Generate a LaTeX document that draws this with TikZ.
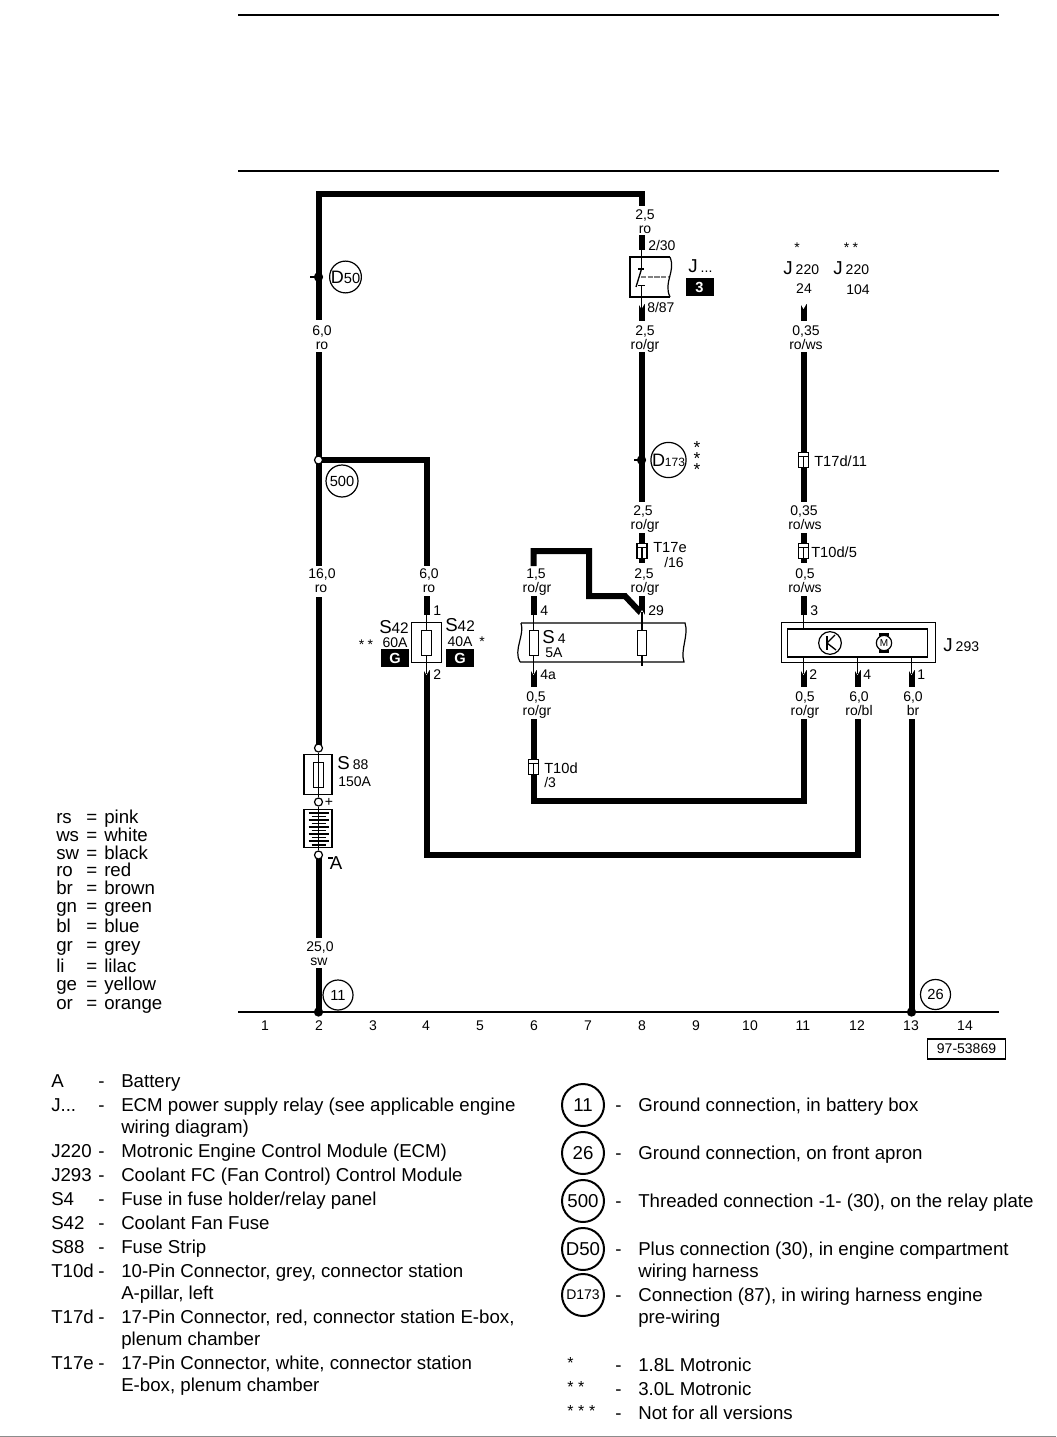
\documentclass[tikz,border=0pt]{standalone}
\usepackage{fontspec}
\setmainfont{Liberation Sans}
\newcommand{\fz}[1]{\fontsize{#1}{#1}\selectfont}
\newcommand{\jdd}{J...}
\newcommand{\stsp}{\hspace{2.6pt}}
\tikzset{
  x=0.75pt,y=-0.75pt,
  wire/.style={line width=4.5pt,line join=miter,line cap=butt},
  thin line/.style={line width=0.8pt},
  rule/.style={line width=0.9pt},
  lab/.style={inner sep=0pt,text height=7.4pt,text depth=0pt,font=\fz{10.5}},
  labw/.style={lab,anchor=west},
  big/.style={inner sep=0pt,text height=10pt,text depth=0pt,font=\fz{14}},
  bigw/.style={big,anchor=west},
  leg/.style={inner sep=0pt,text height=10pt,text depth=0pt,font=\fz{14},anchor=west},
  ring/.style={circle,draw,line width=0.9pt,fill=white,inner sep=0pt},
  keyring/.style={ring,line width=1.5pt,minimum size=31.5pt},
  opendot/.style={circle,draw,line width=0.9pt,fill=white,inner sep=0pt,minimum size=6pt},
  soliddot/.style={circle,fill=black,inner sep=0pt,minimum size=7pt},
  box/.style={rectangle,draw,line width=0.9pt,inner sep=0pt},
  blk/.style={rectangle,fill=black,text=white,inner sep=0pt,font=\bfseries\fz{11},minimum width=21pt,minimum height=13pt},
}
% down pin: tip at y (upper end), wire goes down
\newcommand{\pindown}[3]{%
  \coordinate (#1a) at (#2,#3); \coordinate (#1b) at (#2,#3+17);
  \draw[wire] (#1a) -- (#1b);
  \fill[white] (#2-3.2,#3-.5) -- (#2+3.2,#3-.5) -- (#2,#3+5) -- cycle;}
% up pin: tip at y (lower end), wire goes up
\newcommand{\pinup}[3]{%
  \coordinate (#1a) at (#2,#3); \coordinate (#1b) at (#2,#3-19);
  \draw[wire] (#1a) -- (#1b);
  \fill[white] (#2-3.2,#3+.5) arc (180:0:3.2 and 5) -- cycle;}
% in-line connector
\newcommand{\conn}[3]{%
  \node[box,fill=white,minimum width=7.6pt,minimum height=11.6pt] (#1) at (#2,#3) {};
  \draw[thin line] (#2-5,#3-3.5) -- (#2+5,#3-3.5);
  \draw[thin line] (#2,#3-3.5) -- (#2,#3+8);}
\begin{document}
\begin{tikzpicture}
\useasboundingbox (0,0) rectangle (1056,1437);
\fill[white] (0,0) rectangle (1056,1437);
% rules
\coordinate (r1a) at (238,15); \coordinate (r1b) at (999,15);
\coordinate (r2a) at (238,171); \coordinate (r2b) at (999,171);
\coordinate (r3a) at (238,1012); \coordinate (r3b) at (999,1012);
\coordinate (r4a) at (0,1436.5); \coordinate (r4b) at (1056,1436.5);
\draw[rule] (r1a) -- (r1b); \draw[rule] (r2a) -- (r2b); \draw[rule] (r3a) -- (r3b);
\draw[line width=1pt,black!45] (r4a) -- (r4b);
% grid numbers
\foreach \n/\x in {1/265,2/319,3/373,4/426,5/480,6/534,7/588,8/642,9/696,10/750,11/803,12/857,13/911,14/965}
  \node[lab] (ax\n) at (\x,1026) {\n};
\node[box,minimum width=59pt,minimum height=15pt,font=\fz{10.5}] (docno) at (966.5,1049) {97-53869};

% --- main wires ---
\coordinate (w1) at (642,206); \coordinate (w2) at (642,194.5); \coordinate (w3) at (318.5,194.5);
\coordinate (w4) at (318.5,320);
\draw[wire] (w1) -- (w2) -- (w3) -- (w4);
\coordinate (w5) at (318.5,352); \coordinate (w6) at (318.5,566);
\draw[wire] (w5) -- (w6);
\coordinate (w7) at (318.5,597); \coordinate (w8) at (318.5,748);
\draw[wire] (w7) -- (w8);
\coordinate (b1) at (318.5,460); \coordinate (b2) at (427,460); \coordinate (b3) at (427,566);
\draw[wire] (b1) -- (b2) -- (b3);
\coordinate (w9) at (318.5,855); \coordinate (w10) at (318.5,938);
\draw[wire] (w9) -- (w10);
\coordinate (w11) at (318.5,968); \coordinate (w12) at (318.5,1012);
\draw[wire] (w11) -- (w12);

% D50, 500
\node[soliddot] (d50dot) at (318.5,277) {};
\coordinate (d50t) at (310,277); \draw[thin line] (d50t) -- (d50dot);
\node[ring,minimum size=23.5pt,font=\fz{11}] (d50) at (345.5,277) {\fz{13.5}D\fz{11}50};
\node[opendot] (n500dot) at (318.5,460) {};
\node[ring,minimum size=24pt,font=\fz{11}] (n500) at (342,481) {500};
\node[lab] (l60a) at (322,331) {6,0};
\node[lab] (l60b) at (322,345) {ro};
\node[lab] (l160a) at (322,574) {16,0};
\node[lab] (l160b) at (321,588) {ro};
\node[lab] (l25a) at (320,947) {25,0};
\node[lab] (l25b) at (319,961) {sw};

% S88 and battery
\node[opendot] (s88t) at (318.5,748) {};
\node[box,minimum width=21pt,minimum height=29.5pt] (s88) at (318,774.5) {};
\node[opendot] (bplus) at (318.5,802) {};
\node[box,minimum width=21pt,minimum height=29pt] (bat) at (318,828.5) {};
\node[opendot] (bminus) at (318.5,855) {};
\draw[thin line] (s88t) -- (bplus) -- (bminus);
\node[box,fill=white,minimum width=7pt,minimum height=19pt] (s88f) at (318.5,775) {};
\draw[thin line] (s88t) -- (bplus);
\foreach \yy/\w in {813/10,816.5/7,820/10,823.5/7,827/10,830.5/7,834/10,837.5/7,841/10,845/7}{
  \draw[line width=1pt] (318.5-\w,\yy) -- (318.5+\w,\yy);}
\node[bigw] (s88s) at (337,763) {S\,\fz{10.5}88};
\node[labw] (s88a) at (338,782) {150A};
\node[lab] (plus) at (329,802) {+};
\node[big] (abat) at (336,863) {A};
\coordinate (minA) at (328,858); \coordinate (minB) at (333,858);
\draw[thin line] (minA) -- (minB);
\node[ring,minimum size=22.5pt,font=\fz{11}] (g11) at (338,995) {11};
\node[soliddot] (g11dot) at (318.5,1012) {};

% Relay J...
\node[lab] (l25ra) at (645,215) {2,5};
\pinup{p230}{641.5}{250}
\fill[white] (636,222) rectangle (648,235.5);
\node[lab] (l25rb) at (645,229) {ro};
\node[labw] (l230) at (648,246) {2/30};
\coordinate (ra) at (630,257); \coordinate (rb) at (670,257); \coordinate (rc) at (670,297); \coordinate (rd) at (630,297);
\draw[line width=.9pt] (rb) -- (ra) -- (rd) -- (rc);
\draw[line width=.9pt] (rb) .. controls (676,272) and (663,282) .. (rc);
\coordinate (rl1) at (641.5,246); \coordinate (rl2) at (641.5,268);
\draw[thin line] (rl1) -- (rl2);
\coordinate (rs1) at (638,269); \coordinate (rs2) at (644,269); \draw[thin line] (rs1) -- (rs2);
\coordinate (rs3) at (641.5,269); \coordinate (rs4) at (636,287); \draw[line width=1pt] (rs3) -- (rs4);
\coordinate (rs5) at (638,285.5); \coordinate (rs6) at (645,285.5); \draw[thin line] (rs5) -- (rs6);
\coordinate (rl3) at (641.5,285.5); \coordinate (rl4) at (641.5,310); \draw[thin line] (rl3) -- (rl4);
\coordinate (rd1) at (641,277); \coordinate (rd2) at (669,277); \draw[line width=1.1pt,dash pattern=on 4pt off 1pt,black!50] (rd1) -- (rd2);
\pindown{p887}{641.5}{304}
\draw[thin line] (641.5,297) -- (641.5,309);
\node[labw] (l887) at (647,308) {8/87};
\node[bigw] (jdots) at (688,266) {J\,\fz{10.5}...};
\node[blk] (b3box) at (699.5,287) {3};
\node[lab] (l25c) at (645,331) {2,5};
\node[lab] (l25d) at (645,345) {ro/gr};
\coordinate (w20) at (642,352); \coordinate (w21) at (642,502);
\draw[wire] (w20) -- (w21);
\node[soliddot] (d173dot) at (641.5,460) {};
\coordinate (d173t) at (634,460); \draw[thin line] (d173t) -- (d173dot);
\node[ring,minimum size=26pt] (d173) at (668.5,460) {\fz{13.5}D\fz{9}173};
\node[inner sep=0pt,align=center,font=\fz{13}] (st1) at (697,459) {*\\[-4.75pt]*\\[-4.75pt]*};
\node[lab] (l25e) at (643,511) {2,5};
\node[lab] (l25f) at (645,525) {ro/gr};
\coordinate (w22) at (642,533); \coordinate (w23) at (642,563);
\draw[wire] (w22) -- (w23);
\conn{t17e}{642}{551}
\node[labw] (t17el) at (653,548) {\fz{11}T17e};
\node[labw] (t17em) at (664,563) {/16};
\node[lab] (l25g) at (644,574) {2,5};
\node[lab] (l25h) at (645,588) {ro/gr};
\pinup{p29}{642}{615}
\node[labw] (l29) at (648,611) {29};
% 1,5 loop
\coordinate (v1) at (533.5,566); \coordinate (v2) at (533.5,551); \coordinate (v3) at (589,551);
\coordinate (v4) at (589,596); \coordinate (v5) at (625,596); \coordinate (v6) at (641,613);
\draw[wire] (v1) -- (v2) -- (v3) -- (v4) -- (v5) -- (v6);
\fill[white] (638.8,615.5) -- (645.2,615.5) -- (642,610) -- cycle;
\node[lab] (l15a) at (536,574) {1,5};
\node[lab] (l15b) at (537,588) {ro/gr};
\pinup{p4}{533.5}{615}
\node[labw] (l4) at (540,611) {4};

% panel
\coordinate (pa) at (521,623); \coordinate (pb) at (685,623); \coordinate (pc) at (684,662); \coordinate (pd) at (520,662);
\draw[line width=.9pt] (pa) -- (pb) .. controls (689,635) and (680,650) .. (pc) -- (pd);
\draw[line width=.9pt] (pa) .. controls (525,635) and (513,650) .. (pd);
\coordinate (pl1) at (533.5,612); \coordinate (pl2) at (533.5,674);
\draw[thin line] (pl1) -- (pl2);
\coordinate (pl3) at (642,612); \coordinate (pl4) at (642,666);
\draw[thin line] (pl3) -- (pl4);
\node[box,fill=white,minimum width=7pt,minimum height=19pt] (fs4) at (534,643) {};
\node[box,fill=white,minimum width=7pt,minimum height=19pt] (fs8) at (642,643) {};
\node[bigw] (s4l) at (542,637) {S\,\fz{10.5}4};
\node[labw] (s4a) at (545,653) {5A};
\pindown{p4a}{533.5}{670}
\draw[thin line] (533.5,662) -- (533.5,674);
\node[labw] (l4a) at (540,675) {4a};
\node[lab] (l05a) at (536,697) {0,5};
\node[lab] (l05b) at (537,711) {ro/gr};
\coordinate (x1) at (533.5,719); \coordinate (x2) at (533.5,801); \coordinate (x3) at (803.5,801); \coordinate (x4) at (803.5,719);
\draw[wire] (x1) -- (x2) -- (x3) -- (x4);
\conn{t10d}{533.5}{767}
\node[labw] (t10dl) at (544,769) {\fz{11}T10d};
\node[labw] (t10dm) at (544,783) {/3};

% S42
\node[lab] (l60c) at (429,574) {6,0};
\node[lab] (l60d) at (429,588) {ro};
\pinup{p1}{426.5}{615}
\node[labw] (l1) at (433,611) {1};
\node[box,minimum width=23pt,minimum height=29.5pt] (s42) at (426.5,642.5) {};
\coordinate (sl1) at (426.5,612); \coordinate (sl2) at (426.5,674);
\draw[thin line] (sl1) -- (sl2);
\node[box,fill=white,minimum width=7pt,minimum height=19pt] (fs42) at (426.5,643) {};
\pindown{p2}{426.5}{670}
\draw[thin line] (426.5,662) -- (426.5,674);
\node[labw] (l2) at (433,675) {2};
\coordinate (y1) at (427,687); \coordinate (y2) at (427,854.5); \coordinate (y3) at (857.5,854.5); \coordinate (y4) at (857.5,719);
\draw[wire] (y1) -- (y2) -- (y3) -- (y4);
\node[bigw] (s42l) at (379,627) {S\fz{11.5}42};
\node[lab] (a60) at (395,643) {60A};
\node[lab] (st4) at (366,645) {*\stsp*};
\node[blk] (g1) at (395,658) {G};
\node[bigw] (s42r) at (445,625) {S\fz{11.5}42};
\node[lab] (a40) at (460,642) {40A};
\node[lab] (st5) at (482,642) {*};
\node[blk] (g2) at (460,658) {G};

% right column
\node[lab] (st6) at (797,248) {*};
\node[lab] (st7) at (851,248) {*\stsp*};
\node[bigw] (j220a) at (783,268) {J\,\fz{10.5}220};
\node[bigw] (j220b) at (833,268) {J\,\fz{10.5}220};
\node[lab] (n24) at (804,289) {24};
\node[lab] (n104) at (858,290) {104};
\pindown{p24}{803.5}{304}
\node[lab] (l035a) at (806,331) {0,35};
\node[lab] (l035b) at (806,345) {ro/ws};
\coordinate (z1) at (803.5,352); \coordinate (z2) at (803.5,502);
\draw[wire] (z1) -- (z2);
\conn{t17d}{803.5}{460}
\node[labw] (t17dl) at (814,462) {\fz{11}T17d/11};
\node[lab] (l035c) at (804,511) {0,35};
\node[lab] (l035d) at (805,525) {ro/ws};
\coordinate (z3) at (803.5,533); \coordinate (z4) at (803.5,563);
\draw[wire] (z3) -- (z4);
\conn{t10e}{803.5}{551}
\node[labw] (t10el) at (811,553) {\fz{11}T10d/5};
\node[lab] (l05c) at (805,574) {0,5};
\node[lab] (l05d) at (805,588) {ro/ws};
\pinup{p3}{803.5}{615}
\node[labw] (l3) at (810,611) {3};
\coordinate (z5) at (803.5,612); \coordinate (z6) at (803.5,629);
\draw[thin line] (z5) -- (z6);
\node[box,minimum width=115pt,minimum height=29.5pt] (j293o) at (858.5,642.5) {};
\node[box,minimum width=105.5pt,minimum height=21pt] (j293i) at (857.5,643) {};
\node[ring,minimum size=17pt] (tr) at (830,643) {};
\coordinate (k1) at (827,636); \coordinate (k2) at (827,650); \draw[line width=1.2pt] (k1) -- (k2);
\coordinate (k3) at (827,643); \coordinate (k4) at (835,635); \coordinate (k5) at (836,650);
\draw[line width=1pt] (k4) -- (k3) -- (k5);
\node[ring,minimum size=11.5pt,font=\fz{7.5}] (mot) at (884,643) {M};
\coordinate (m1) at (879,634.5); \coordinate (m2) at (889,634.5); \draw[line width=1.6pt] (m1) -- (m2);
\coordinate (m3) at (879,651.5); \coordinate (m4) at (889,651.5); \draw[line width=1.6pt] (m3) -- (m4);
\node[bigw] (j293l) at (943,645) {J\,\fz{10.5}293};
\foreach \nm/\xx/\tx in {q2/803.5/2,q4/857.5/4,q1/911.5/1}{
  \pindown{\nm}{\xx}{670}
  \draw[thin line] (\xx,657) -- (\xx,674);
  \node[labw] (lab\nm) at (\xx+5.5,675) {\tx};
}
\node[lab] (l05e) at (805,697) {0,5};
\node[lab] (l05f) at (805,711) {ro/gr};
\node[lab] (l60e) at (859,697) {6,0};
\node[lab] (l60f) at (859,711) {ro/bl};
\node[lab] (l60g) at (913,697) {6,0};
\node[lab] (l60h) at (913,711) {br};
\coordinate (g1a) at (911.5,719); \coordinate (g1b) at (911.5,1012);
\draw[wire] (g1a) -- (g1b);
\node[soliddot] (g26dot) at (911.5,1012) {};
\node[ring,minimum size=22.5pt,font=\fz{11}] (g26) at (935.5,994.5) {26};

% colour legend
\foreach \i/\k/\c/\yy in {a/rs/pink/817,b/ws/white/835,c/sw/black/853,d/ro/red/870,e/br/brown/888,f/gn/green/906,g/bl/blue/926,h/gr/grey/945,i/li/lilac/966,j/ge/yellow/984,k/or/orange/1003}{
  \node[leg] (ck\i) at (56,\yy) {\k};
  \node[leg] (ce\i) at (86,\yy) {=};
  \node[leg] (cv\i) at (104,\yy) {\c};
}
% component legend
\foreach \i/\k/\yy/\t in {a/A/1081/Battery,
 b/\jdd/1105/ECM power supply relay (see applicable engine,
 c//1127/wiring diagram),
 d/J220/1151/Motronic Engine Control Module (ECM),
 e/J293/1175/Coolant FC (Fan Control) Control Module,
 f/S4/1199/Fuse in fuse holder\slash relay panel,
 g/S42/1223/Coolant Fan Fuse,
 h/S88/1247/Fuse Strip,
 i/T10d/1271/10-Pin Connector{,} grey{,} connector station,
 j//1293/A-pillar{,} left,
 k/T17d/1317/17-Pin Connector{,} red{,} connector station E-box{,},
 l//1339/plenum chamber,
 m/T17e/1363/17-Pin Connector{,} white{,} connector station,
 n//1385/E-box{,} plenum chamber}{
  \node[leg] (lk\i) at (51,\yy) {\k};
  \node[leg] (lt\i) at (121,\yy) {\t};
}
\foreach \i/\yy in {a/1081,b/1105,d/1151,e/1175,f/1199,g/1223,h/1247,i/1271,k/1317,m/1363}
  \node[leg] (ld\i) at (98,\yy) {-};
% right legend
\foreach \i/\yy/\t in {a/1105/Ground connection{,} in battery box,
 b/1153/Ground connection{,} on front apron,
 c/1201/{Threaded connection -1- (30){,} on the relay plate},
 d/1249/Plus connection (30){,} in engine compartment,
 e/1271/wiring harness,
 f/1295/Connection (87){,} in wiring harness engine,
 g/1317/pre-wiring,
 h/1365/1.8L Motronic,
 i/1389/3.0L Motronic,
 j/1413/Not for all versions}{
  \node[leg] (rt\i) at (638,\yy) {\t};
}
\foreach \i/\yy in {a/1105,b/1153,c/1201,d/1249,f/1295,h/1365,i/1389,j/1413}
  \node[leg] (rd\i) at (615,\yy) {-};
\node[keyring,font=\fz{14}] (k11) at (583,1105) {11};
\node[keyring,font=\fz{14}] (k26) at (583,1153) {26};
\node[keyring,font=\fz{14}] (k500) at (583,1201) {500};
\node[keyring,font=\fz{14}] (kd50) at (583,1249) {D50};
\node[keyring,font=\fz{10.5}] (kd173) at (583,1295) {D173};
\node[leg,font=\fz{12}] (ks1) at (567,1362) {*};
\node[leg,font=\fz{12}] (ks2) at (567,1386) {*\hspace{3.5pt}*};
\node[leg,font=\fz{12}] (ks3) at (567,1410) {*\hspace{3.5pt}*\hspace{3.5pt}*};
\end{tikzpicture}
\end{document}
